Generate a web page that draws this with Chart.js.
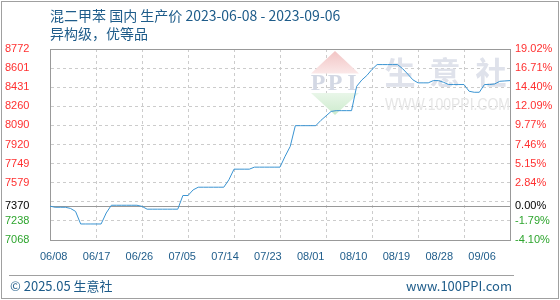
<!DOCTYPE html>
<html>
<head>
<meta charset="utf-8">
<script src="https://cdn.jsdelivr.net/npm/chart.js@4.4.0/dist/chart.umd.min.js"></script>
<style>
body { margin:0; width:560px; height:300px; position:relative; overflow:hidden; background:#fff;
  font-family:"Noto Sans CJK SC","Liberation Sans",sans-serif; color:#1e5c8a; }
#frame { position:absolute; left:1px; top:1px; width:556px; height:296px; border:1px solid #a0a0a0; }
#chart { position:absolute; left:0; top:0; }
#title { position:absolute; left:50px; top:6px; font-size:14px; line-height:18px; white-space:nowrap; }
#rule { position:absolute; left:9px; top:275px; width:505px; border-top:1px solid #a0a0a0; }
.foot { position:absolute; top:277px; font-size:13px; line-height:18px; white-space:nowrap; }
</style>
</head>
<body>
<div id="frame"></div>
<canvas id="chart" width="560" height="300"></canvas>
<div id="title">混二甲苯 国内 生产价 2023-06-08 - 2023-09-06<br>异构级，优等品</div>
<div id="rule"></div>
<div class="foot" style="left:10px">© 2025.05 生意社</div>
<div class="foot" style="right:48px">www.100PPI.com</div>
<script>
// x labels, every 9 days
let dates = ['06/08','06/17','06/26','07/05','07/14','07/23','08/01','08/10','08/19','08/28','09/06'];

// daily price 06-08 .. 09-06 (91 days)
let prices = [
  7370, 7360, 7360, 7360, 7350, 7323, 7211, 7211, 7211, 7211,
  7211, 7309, 7378, 7378, 7378, 7378, 7378, 7378, 7368, 7343,
  7343, 7343, 7343, 7343, 7343, 7343, 7465, 7465, 7515, 7539,
  7539, 7539, 7539, 7539, 7539, 7605, 7700, 7700, 7700, 7700,
  7718, 7718, 7718, 7718, 7718, 7718, 7815, 7903, 8088, 8088,
  8088, 8088, 8088, 8135, 8175, 8215, 8222, 8222, 8222, 8222,
  8439, 8495, 8536, 8590, 8633, 8633, 8633, 8633, 8633, 8596,
  8548, 8497, 8470, 8470, 8470, 8490, 8490, 8475, 8455, 8455,
  8455, 8455, 8395, 8386, 8386, 8455, 8455, 8460, 8484, 8487,
  8490
];

let base = 7370;
let yTicks = [7068, 7238.4, 7408.8, 7579.2, 7749.6, 7920, 8090.4, 8260.8, 8431.2, 8601.6, 8772];
let leftLabels = ['7068','7238','','7579','7749','7920','8090','8260','8431','8601','8772'];
let rightLabels = ['-4.10%','-1.79%','','2.84%','5.15%','7.46%','9.77%','12.09%','14.40%','16.71%','19.02%'];

let yMin = yTicks[0], yMax = yTicks[yTicks.length - 1];
let red = '#ff3030', green = '#2ea52e';

function makeTicks(labels, baseText) {
  let t = yTicks.map((v, i) => ({ value: v, text: labels[i] }));
  t.push({ value: base, text: baseText });
  t.sort((a, b) => a.value - b.value);
  return t;
}

function tickColor(ctx) {
  let v = ctx.tick.value;
  if (v === base) return '#000';
  return v > base ? red : green;
}

let watermark = {
  id: 'watermark',
  beforeDatasetsDraw(chart) {
    let c = chart.ctx;
    c.save();
    let g1 = c.createLinearGradient(0, 51, 0, 74);
    g1.addColorStop(0, '#f2c4c4');
    g1.addColorStop(1, '#fbe9e9');
    c.fillStyle = g1;
    c.beginPath(); c.moveTo(335, 51); c.lineTo(311, 73.5); c.lineTo(359, 73.5); c.closePath(); c.fill();
    let g2 = c.createLinearGradient(0, 93, 0, 115);
    g2.addColorStop(0, '#e9f6e9');
    g2.addColorStop(1, '#cdebcd');
    c.fillStyle = g2;
    c.beginPath(); c.moveTo(311, 93); c.lineTo(359, 93); c.lineTo(335, 115); c.closePath(); c.fill();
    c.fillStyle = '#d3d8e4';
    c.font = 'bold 24px "Liberation Serif"';
    c.textAlign = 'center';
    c.textBaseline = 'middle';
    c.fillText('P', 318, 84);
    c.fillText('P', 335, 84);
    c.fillText('I', 352, 84);
    c.fillStyle = '#dfe2eb';
    c.font = 'bold 31px "Noto Sans CJK SC"';
    c.fillText('生', 400, 72);
    c.fillText('意', 445, 72);
    c.fillText('社', 491, 72);
    c.fillStyle = '#e6e6e6';
    c.font = '17px "Liberation Sans"';
    c.textAlign = 'left';
    c.fillText('WWW.100PPI.COM', 385, 105, 125);
    c.restore();
  }
};

new Chart(document.getElementById('chart'), {
  type: 'line',
  data: {
    datasets: [{
      data: prices.map((v, i) => ({ x: i, y: v })),
      borderColor: '#3a94d2',
      borderWidth: 1,
      pointRadius: 0,
      tension: 0
    }]
  },
  options: {
    responsive: false,
    animation: false,
    layout: { padding: { left: 5, right: 0, top: 49, bottom: 0 } },
    plugins: { legend: { display: false }, tooltip: { enabled: false } },
    scales: {
      x: {
        type: 'linear', position: 'bottom', weight: 0, min: 0, max: 90, bounds: 'data',
        ticks: { display: false, stepSize: 9 },
        afterFit: s => { s.height = 0; },
        grid: {
          drawTicks: false,
          color: ctx => (ctx.tick && (ctx.tick.value === 0 || ctx.tick.value === 90)) ? 'rgba(0,0,0,0)' : '#cccccc'
        },
        border: { color: '#999999', dash: [3, 3] }
      },
      xl: {
        type: 'linear', position: 'bottom', weight: 1, min: -0.0864, max: 10.652, bounds: 'data',
        afterBuildTicks: s => { s.ticks = dates.map((d, i) => ({ value: i })); },
        afterFit: s => { s.height = 60; },
        grid: { display: false, drawTicks: false },
        border: { display: false },
        ticks: {
          autoSkip: false, maxRotation: 0, padding: 10, color: '#1e5c8a',
          font: { family: 'Liberation Sans', size: 11 },
          callback: (v, i) => dates[i]
        }
      },
      y: {
        type: 'linear', position: 'left', min: yMin, max: yMax, bounds: 'data',
        afterBuildTicks: s => { s.ticks = makeTicks(leftLabels, '7370'); },
        afterFit: s => { s.width = 45; },
        grid: {
          drawTicks: false,
          color: ctx => {
            if (!ctx.tick) return '#cccccc';
            let v = ctx.tick.value;
            if (v === yMin) return 'rgba(0,0,0,0)';
            if (v === base || v === yMax) return '#999999';
            return '#cccccc';
          }
        },
        border: {
          color: '#999999',
          dash: ctx => (ctx.tick && (ctx.tick.value === base || ctx.tick.value === yMax)) ? [] : [3, 3]
        },
        ticks: {
          crossAlign: 'far', padding: 4, color: tickColor,
          font: { family: 'Liberation Sans', size: 11 },
          callback: (v, i, t) => t[i].text
        }
      },
      y1: {
        type: 'linear', position: 'right', min: yMin, max: yMax, bounds: 'data',
        afterBuildTicks: s => { s.ticks = makeTicks(rightLabels, '0.00%'); },
        afterFit: s => { s.width = 50; },
        grid: { display: false, drawTicks: false },
        border: { color: '#999999' },
        ticks: {
          padding: 5, color: tickColor,
          font: { family: 'Liberation Sans', size: 11 },
          callback: (v, i, t) => t[i].text
        }
      }
    }
  },
  plugins: [watermark]
});
</script>
</body>
</html>
